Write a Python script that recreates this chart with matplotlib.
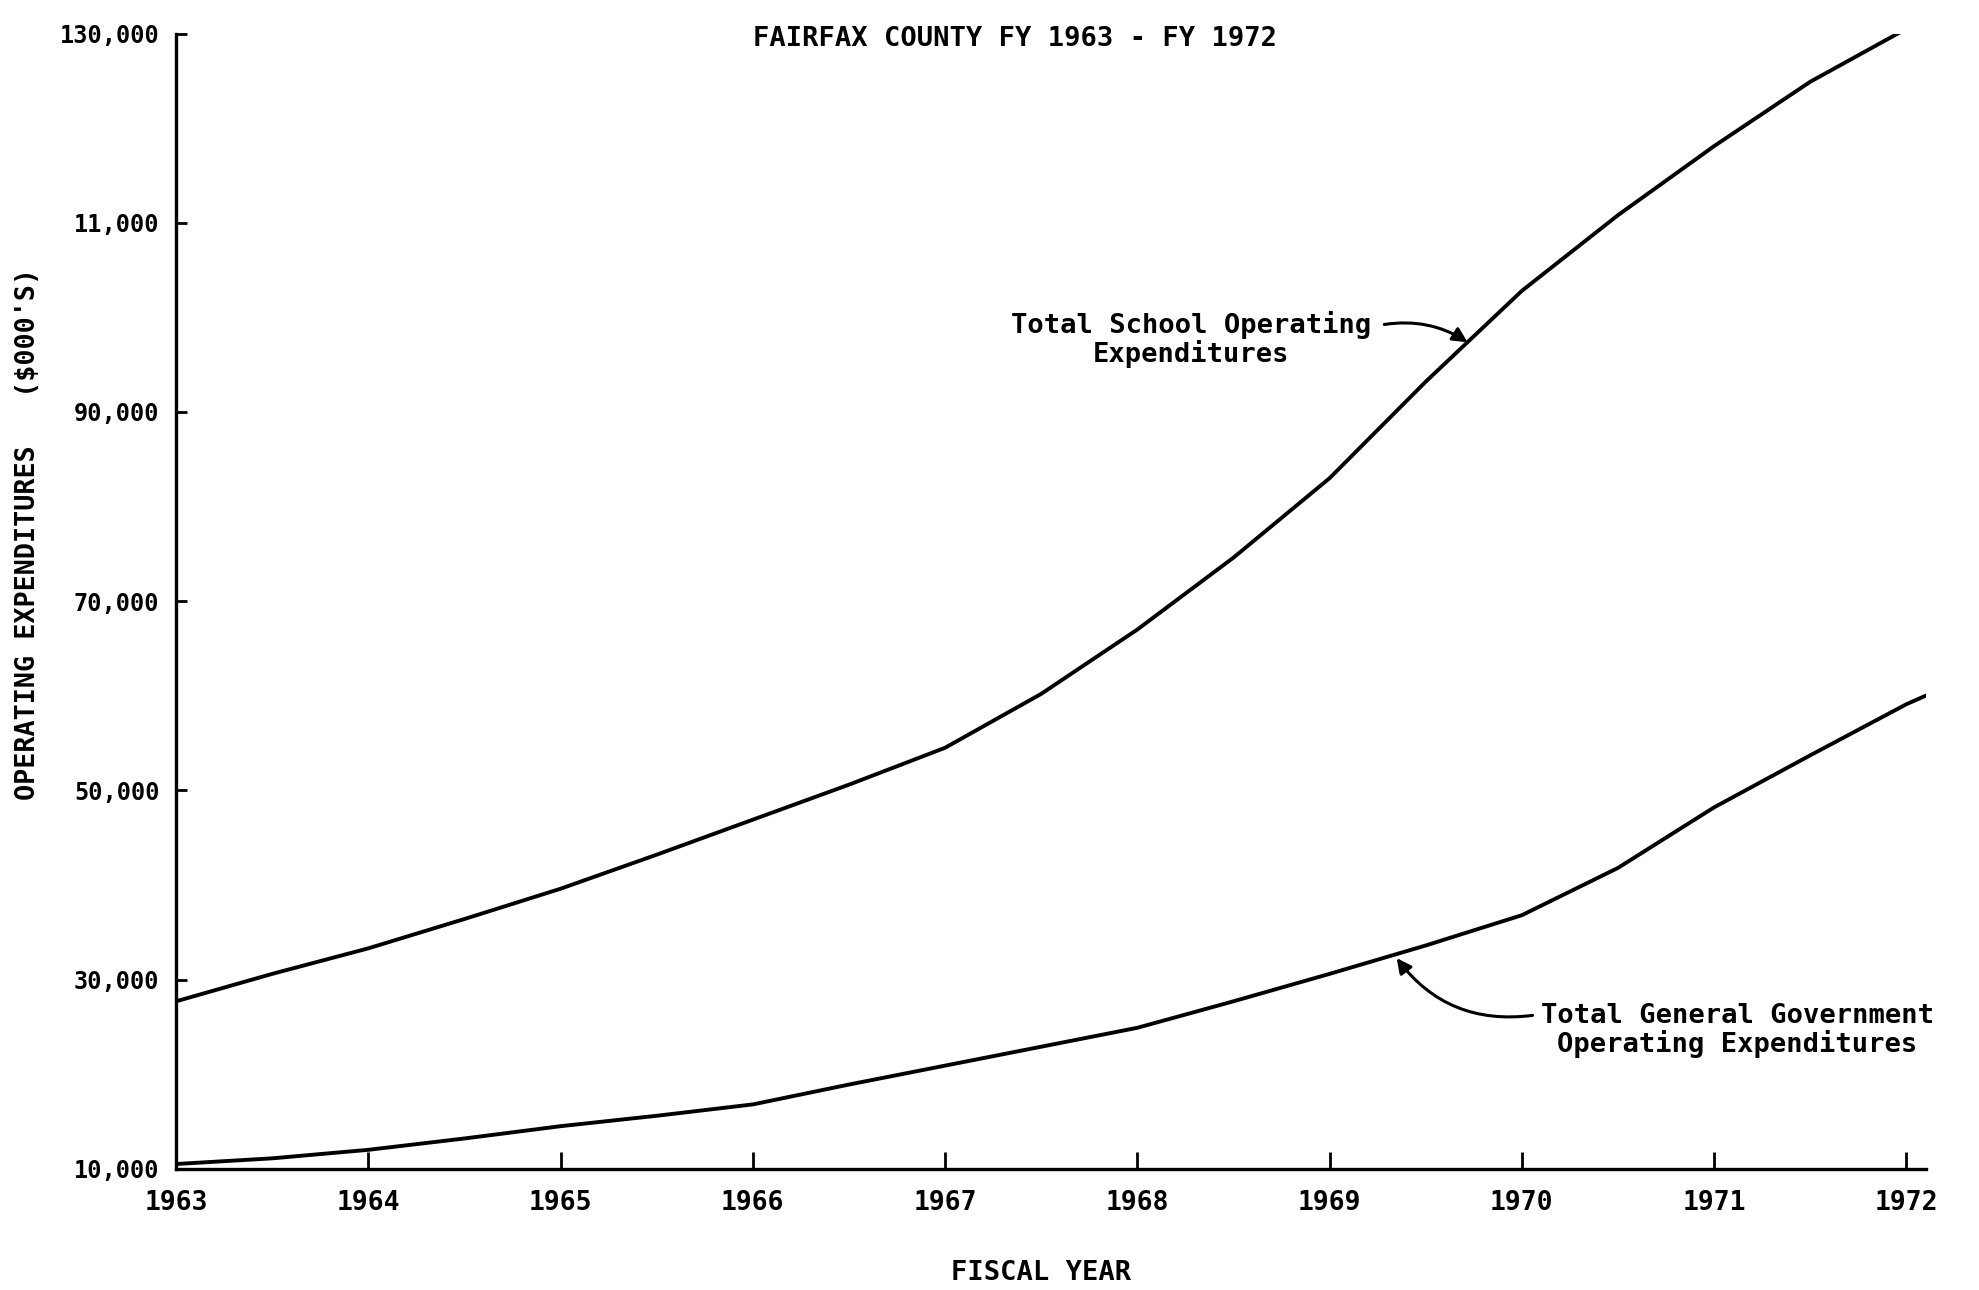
import matplotlib.pyplot as plt

# fiscal year positions (half years added where the curves bend)
fy = [1963, 1963.5, 1964, 1964.5, 1965, 1965.5, 1966, 1966.5, 1967, 1967.5,
      1968, 1968.5, 1969, 1969.5, 1970, 1970.5, 1971, 1971.5, 1972, 1972.1]
school = [27700, 30600, 33300, 36400, 39600, 43200, 46900, 50600, 54500, 60200,
          67000, 74600, 83000, 93200, 102800, 110800, 118100, 124900, 130500, 131900]
general = [10500, 11100, 12000, 13200, 14500, 15600, 16800, 18900, 20900, 22900,
           24900, 27700, 30600, 33600, 36800, 41800, 48200, 53700, 59100, 60000]

year_ticks = [1963, 1964, 1965, 1966, 1967, 1968, 1969, 1970, 1971, 1972]
y_ticks = [10000, 30000, 50000, 70000, 90000, 110000, 130000]
y_labels = ['10,000', '30,000', '50,000', '70,000', '90,000', '11,000', '130,000']

font = 'DejaVu Sans Mono'

fig = plt.figure(figsize=(19.79, 12.90), dpi=100)
ax = fig.add_axes([0.089, 0.094, 0.884, 0.88])

ax.plot(fy, school, color='black', linewidth=2.8, solid_joinstyle='round')
ax.plot(fy, general, color='black', linewidth=2.8, solid_joinstyle='round')

ax.set_xlim(1963, 1972.1)
ax.set_ylim(10000, 130000)

ax.spines['top'].set_visible(False)
ax.spines['right'].set_visible(False)
ax.spines['left'].set_linewidth(2.4)
ax.spines['bottom'].set_linewidth(2.4)

ax.set_xticks(year_ticks)
ax.set_xticklabels([str(y) for y in year_ticks], fontfamily=font, fontweight='bold', fontsize=19)
ax.set_yticks(y_ticks)
ax.set_yticklabels(y_labels, fontfamily=font, fontweight='bold', fontsize=17)
ax.tick_params(axis='x', direction='in', length=12, width=2, pad=15)
ax.tick_params(axis='y', direction='in', length=8, width=2, pad=12)

fig.text(0.526, 0.013, 'FISCAL YEAR', ha='center', va='center',
         fontfamily=font, fontweight='bold', fontsize=19.5)
fig.text(0.014, 0.586, "OPERATING EXPENDITURES   ($000'S)", rotation=90, ha='center',
         va='center', fontfamily=font, fontweight='bold', fontsize=19.3)
fig.text(0.513, 0.970, 'FAIRFAX COUNTY FY 1963 - FY 1972', ha='center', va='center',
         fontfamily=font, fontweight='bold', fontsize=19.5)

# labels with curved arrows
ax.text(1968.28, 97640, 'Total School Operating\nExpenditures', ha='center', va='center',
        fontfamily=font, fontweight='bold', fontsize=19.5, linespacing=1.05)
ax.annotate('', xy=(1969.73, 97200), xytext=(1969.27, 99200),
            arrowprops=dict(arrowstyle='-|>', color='black', lw=2.2,
                            mutation_scale=22, connectionstyle='arc3,rad=-0.2'))

ax.text(1971.12, 24590, 'Total General Government\nOperating Expenditures', ha='center',
        va='center', fontfamily=font, fontweight='bold', fontsize=19.5, linespacing=1.05)
ax.annotate('', xy=(1969.34, 32500), xytext=(1970.07, 26250),
            arrowprops=dict(arrowstyle='-|>', color='black', lw=2.2,
                            mutation_scale=22, connectionstyle='arc3,rad=-0.3'))

fig.savefig('out.png', dpi=100)
